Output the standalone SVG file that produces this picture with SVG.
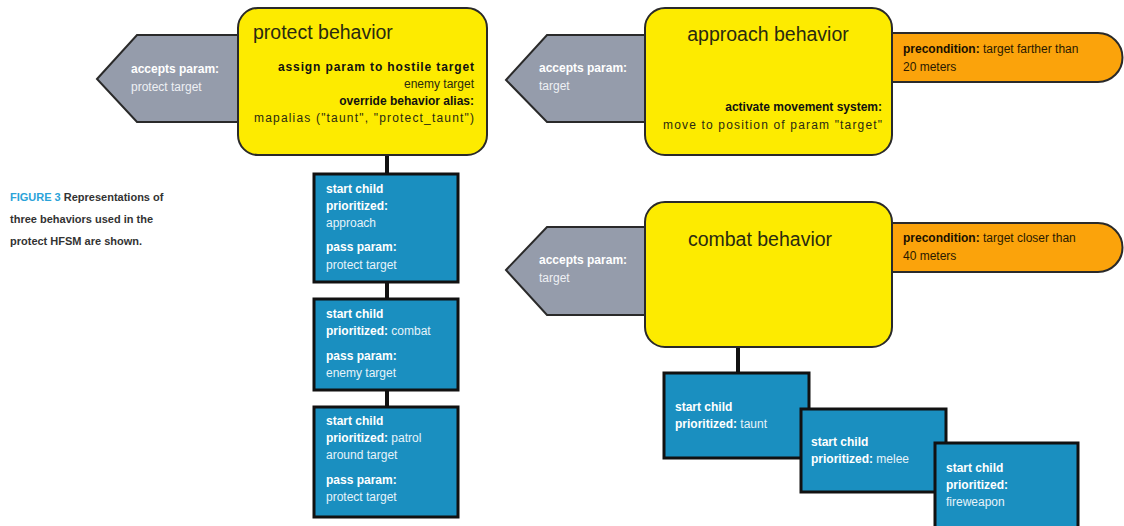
<svg xmlns="http://www.w3.org/2000/svg" width="1124" height="526" viewBox="0 0 1124 526">
<style>
text{font-family:"Liberation Sans",Arial,sans-serif}
.yel{fill:#fdeb00;stroke:#2a2a2a;stroke-width:2}
.gry{fill:#959cab;stroke:#2a2a2a;stroke-width:2}
.org{fill:#fba30b;stroke:#2a2a2a;stroke-width:2}
.blu{fill:#1a8fc0;stroke:#111;stroke-width:3}
.ttl{font-size:19.5px;fill:#2a2a10}
.yb{font-size:12px;font-weight:bold;fill:#111}
.yr{font-size:12px;font-weight:normal;fill:#2a2a10}
.gb{font-size:12px;font-weight:bold;fill:#fff}
.gr{font-size:12px;font-weight:normal;fill:#eef0f4}
.wb{font-size:12px;font-weight:bold;fill:#fff}
.wr{font-size:12px;font-weight:normal;fill:#e6f3fa}
.ob{font-size:12px;font-weight:bold;fill:#1a1000}
.or{font-size:12px;font-weight:normal;fill:#2a1a00}
.cap{font-size:11px;font-weight:bold;fill:#333}
.conn{stroke:#111;stroke-width:4;fill:none}
</style>
<g id="caption">
<text x="10" y="201" class="cap"><tspan fill="#2aa3d9">FIGURE 3</tspan> Representations of</text>
<text x="10" y="223" class="cap">three behaviors used in the</text>
<text x="10" y="245" class="cap">protect HFSM are shown.</text>
</g>
<g id="connectors">
<line class="conn" x1="387" y1="155" x2="387" y2="174"/>
<line class="conn" x1="387" y1="282" x2="387" y2="299"/>
<line class="conn" x1="387" y1="390" x2="387" y2="407"/>
<line class="conn" x1="738" y1="347" x2="738" y2="373"/>
</g>
<g id="protect-accepts">
<polygon class="gry" points="97,79 137,35 245,35 245,122 137,122"/>
<text x="131" y="73" class="gb">accepts param:</text>
<text x="131" y="91" class="gr">protect target</text>
</g>
<g id="protect-behavior">
<rect class="yel" x="238" y="8" width="249" height="147" rx="20"/>
<text x="253" y="39" class="ttl">protect behavior</text>
<text x="474" y="71" class="yb" text-anchor="end" textLength="196">assign param to hostile target</text>
<text x="474" y="88" class="yr" text-anchor="end">enemy target</text>
<text x="474" y="105" class="yb" text-anchor="end">override behavior alias:</text>
<text x="474" y="122" class="yr" text-anchor="end" textLength="220">mapalias ("taunt", "protect_taunt")</text>
</g>
<g id="approach-accepts">
<polygon class="gry" points="506,80 547,35 652,35 652,122 547,122"/>
<text x="539" y="72" class="gb">accepts param:</text>
<text x="539" y="90" class="gr">target</text>
</g>
<g id="approach-precondition">
<path class="org" d="M885,33 H1098 A24,24 0 0 1 1098,82 H885 Z"/>
<text x="903" y="53" class="or"><tspan class="ob">precondition:</tspan> target farther than</text>
<text x="903" y="71" class="or">20 meters</text>
</g>
<g id="approach-behavior">
<rect class="yel" x="645" y="8" width="247" height="147" rx="20"/>
<text x="768" y="41" class="ttl" text-anchor="middle">approach behavior</text>
<text x="882" y="111" class="yb" text-anchor="end">activate movement system:</text>
<text x="882" y="129" class="yr" text-anchor="end" textLength="219">move to position of param "target"</text>
</g>
<g id="combat-accepts">
<polygon class="gry" points="506,270 547,227 652,227 652,315 547,315"/>
<text x="539" y="264" class="gb">accepts param:</text>
<text x="539" y="282" class="gr">target</text>
</g>
<g id="combat-precondition">
<path class="org" d="M885,223 H1098 A24.5,24.5 0 0 1 1098,272 H885 Z"/>
<text x="903" y="242" class="or"><tspan class="ob">precondition:</tspan> target closer than</text>
<text x="903" y="260" class="or">40 meters</text>
</g>
<g id="combat-behavior">
<rect class="yel" x="645" y="202" width="247" height="145" rx="20"/>
<text x="760" y="246" class="ttl" text-anchor="middle">combat behavior</text>
</g>
<g id="child-approach">
<rect class="blu" x="314" y="174" width="144" height="108"/>
<text x="326" y="193" class="wb">start child</text>
<text x="326" y="210" class="wb">prioritized:</text>
<text x="326" y="227" class="wr">approach</text>
<text x="326" y="251" class="wb">pass param:</text>
<text x="326" y="269" class="wr">protect target</text>
</g>
<g id="child-combat">
<rect class="blu" x="314" y="299" width="144" height="91"/>
<text x="326" y="318" class="wb">start child</text>
<text x="326" y="335" class="wb">prioritized: <tspan class="wr">combat</tspan></text>
<text x="326" y="360" class="wb">pass param:</text>
<text x="326" y="377" class="wr">enemy target</text>
</g>
<g id="child-patrol">
<rect class="blu" x="314" y="407" width="144" height="110"/>
<text x="326" y="425" class="wb">start child</text>
<text x="326" y="442" class="wb">prioritized: <tspan class="wr">patrol</tspan></text>
<text x="326" y="459" class="wr">around target</text>
<text x="326" y="484" class="wb">pass param:</text>
<text x="326" y="501" class="wr">protect target</text>
</g>
<g id="child-taunt">
<rect class="blu" x="664" y="373" width="145" height="85"/>
<text x="675" y="411" class="wb">start child</text>
<text x="675" y="428" class="wb">prioritized: <tspan class="wr">taunt</tspan></text>
</g>
<g id="child-melee">
<rect class="blu" x="801" y="409" width="145" height="83"/>
<text x="811" y="446" class="wb">start child</text>
<text x="811" y="463" class="wb">prioritized: <tspan class="wr">melee</tspan></text>
</g>
<g id="child-fireweapon">
<rect class="blu" x="935" y="443" width="143" height="90"/>
<text x="946" y="472" class="wb">start child</text>
<text x="946" y="489" class="wb">prioritized:</text>
<text x="946" y="506" class="wr">fireweapon</text>
</g>
</svg>
